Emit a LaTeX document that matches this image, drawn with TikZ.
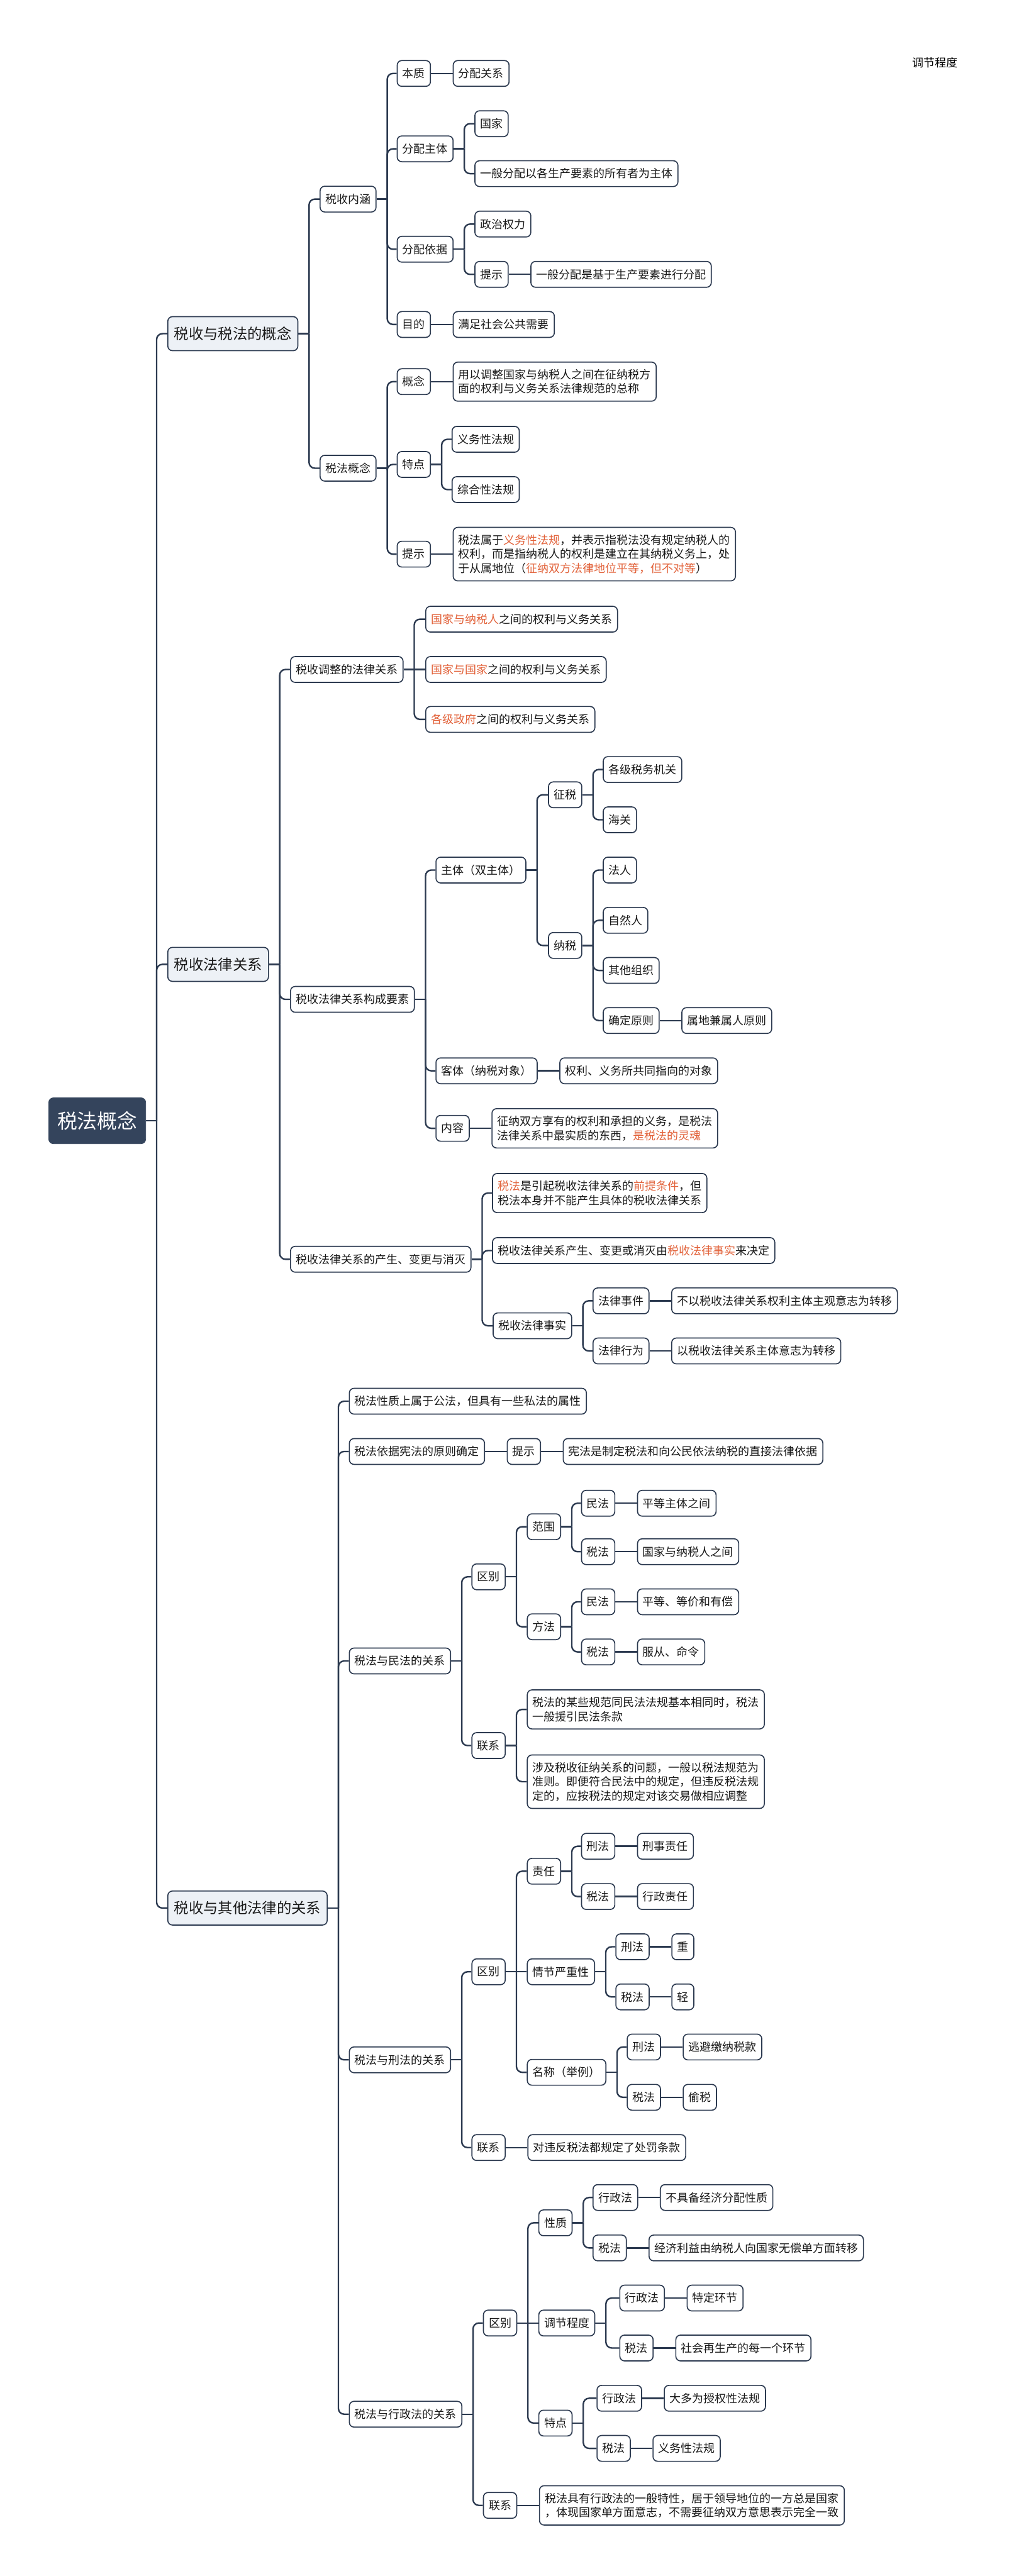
\documentclass[tikz,border=0pt]{standalone}
\usepackage{fontspec}
\setmainfont{Noto Sans CJK SC}
\usepackage{xcolor}
\usepackage{tikz}
\usetikzlibrary{positioning}

\definecolor{navy}{RGB}{44,58,80}
\definecolor{rootfill}{RGB}{52,68,92}
\definecolor{topicfill}{RGB}{237,241,246}
\definecolor{hlorange}{RGB}{226,98,58}
\newcommand{\hlt}[1]{\textcolor{hlorange}{#1}}

\begin{document}
\begin{tikzpicture}[
    x=0.05cm,
    y=-0.05cm,
    node distance=0.66cm,
    rootbox/.style={
        rectangle,
        rounded corners=4pt,
        fill=rootfill,
        draw=rootfill,
        text=white,
        anchor=west,
        inner xsep=7.4pt,
        inner ysep=0pt,
        minimum height=1.4cm,
        font=\fontsize{17.3}{20}\selectfont
    },
    topic/.style={
        rectangle,
        rounded corners=4pt,
        fill=topicfill,
        draw=navy,
        line width=0.9pt,
        text=black!90,
        anchor=west,
        inner xsep=5.5pt,
        inner ysep=0pt,
        minimum height=1.035cm,
        font=\fontsize{12.7}{15}\selectfont
    },
    leaf/.style={
        rectangle,
        rounded corners=4pt,
        fill=white,
        draw=navy,
        line width=0.9pt,
        text=black!90,
        anchor=west,
        align=left,
        inner xsep=4.6pt,
        inner ysep=6.2pt,
        minimum height=0.785cm,
        font=\fontsize{9.8}{12.3}\selectfont
    },
    link/.style={
        draw=navy,
        line width=1.3pt,
        rounded corners=5pt
    }
]

\fill[white] (0,0) rectangle (617,1568);
\useasboundingbox (0,0) rectangle (617,1568);

\node[font=\fontsize{9.8}{12}\selectfont] (note) at (569,38) {调节程度};

% Root and main topics
\node[rootbox] (root) at (29.5,682.2) {税法概念};

\node[topic] (gainian) at (101.8,203.1) {税收与税法的概念};
\node[topic] (guanxi) at (101.8,587) {税收法律关系};
\node[topic] (qita) at (101.8,1161.4) {税收与其他法律的关系};

% Part 1: 税收与税法的概念
\node[leaf] (neihan) at (194.5,121.2) {税收内涵};
\node[leaf] (fagn) at (194.5,285) {税法概念};

\node[leaf] (benzhi) at (241.4,44.7) {本质};
\node[leaf, right=of benzhi] (benzhi-a) {分配关系};
\node[leaf] (zhuti) at (241.4,90.6) {分配主体};
\node[leaf] (guojia) at (288.7,75.3) {国家};
\node[leaf] (suoyou) at (288.7,105.7) {一般分配以各生产要素的所有者为主体};
\node[leaf] (yiju) at (241.4,151.7) {分配依据};
\node[leaf] (quanli) at (288.7,136.4) {政治权力};
\node[leaf] (tishi1) at (288.7,167) {提示};
\node[leaf, right=of tishi1] (tishi1-a) {一般分配是基于生产要素进行分配};
\node[leaf] (mudi) at (241.4,197.5) {目的};
\node[leaf, right=of mudi] (mudi-a) {满足社会公共需要};

\node[leaf] (gn) at (241.4,232.3) {概念};
\node[leaf, right=of gn] (gn-a) {用以调整国家与纳税人之间在征纳税方\\面的权利与义务关系法律规范的总称};
\node[leaf] (tedian) at (241.4,282.7) {特点};
\node[leaf] (yiwu) at (274.8,267.4) {义务性法规};
\node[leaf] (zonghe) at (274.8,298) {综合性法规};
\node[leaf] (tishi2) at (241.4,337.3) {提示};
\node[leaf, right=of tishi2] (tishi2-a) {税法属于\hlt{义务性法规}，并表示指税法没有规定纳税人的\\权利，而是指纳税人的权利是建立在其纳税义务上，处\\于从属地位（\hlt{征纳双方法律地位平等，但不对等}）};

% Part 2: 税收法律关系
\node[leaf] (tiaozheng) at (176.5,407.5) {税收调整的法律关系};
\node[leaf] (tz1) at (258.8,376.9) {\hlt{国家与纳税人}之间的权利与义务关系};
\node[leaf] (tz2) at (258.8,407.5) {\hlt{国家与国家}之间的权利与义务关系};
\node[leaf] (tz3) at (258.8,437.9) {\hlt{各级政府}之间的权利与义务关系};

\node[leaf] (yaosu) at (176.5,608.3) {税收法律关系构成要素};
\node[leaf] (shuangzhu) at (265,529.6) {主体（双主体）};
\node[leaf] (zhengshui) at (333.5,483.8) {征税};
\node[leaf] (swjg) at (366.8,468.4) {各级税务机关};
\node[leaf] (haiguan) at (366.8,499) {海关};
\node[leaf] (nashui) at (333.5,575.5) {纳税};
\node[leaf] (faren) at (366.8,529.6) {法人};
\node[leaf] (ziran) at (366.8,560.2) {自然人};
\node[leaf] (zuzhi) at (366.8,590.7) {其他组织};
\node[leaf] (yuanze) at (366.8,621.2) {确定原则};
\node[leaf, right=of yuanze] (yuanze-a) {属地兼属人原则};
\node[leaf] (keti) at (265,651.8) {客体（纳税对象）};
\node[leaf, right=of keti] (keti-a) {权利、义务所共同指向的对象};
\node[leaf] (neirong) at (265,686.8) {内容};
\node[leaf, right=of neirong] (neirong-a) {征纳双方享有的权利和承担的义务，是税法\\法律关系中最实质的东西，\hlt{是税法的灵魂}};

\node[leaf] (bianhua) at (176.5,766.5) {税收法律关系的产生、变更与消灭};
\node[leaf] (qianti) at (299.4,726.2) {\hlt{税法}是引起税收法律关系的\hlt{前提条件}，但\\税法本身并不能产生具体的税收法律关系};
\node[leaf] (jueding) at (299.4,761.2) {税收法律关系产生、变更或消灭由\hlt{税收法律事实}来决定};
\node[leaf] (shishi) at (299.8,807) {税收法律事实};
\node[leaf] (shijian) at (360.6,791.8) {法律事件};
\node[leaf, right=of shijian] (shijian-a) {不以税收法律关系权利主体主观意志为转移};
\node[leaf] (xingwei) at (360.6,822.3) {法律行为};
\node[leaf, right=of xingwei] (xingwei-a) {以税收法律关系主体意志为转移};

% Part 3: 税收与其他法律的关系
\node[leaf] (gongfa) at (212.3,852.9) {税法性质上属于公法，但具有一些私法的属性};
\node[leaf] (xianfa) at (212.3,883.5) {税法依据宪法的原则确定};
\node[leaf, right=of xianfa] (tishi3) {提示};
\node[leaf, right=of tishi3] (tishi3-a) {宪法是制定税法和向公民依法纳税的直接法律依据};

\node[leaf] (minfa) at (212.3,1011) {税法与民法的关系};
\node[leaf] (mq) at (286.9,959.8) {区别};
\node[leaf] (fanwei) at (320.6,929.3) {范围};
\node[leaf] (fw1) at (353.6,915) {民法};
\node[leaf, right=of fw1] (fw1-a) {平等主体之间};
\node[leaf] (fw2) at (353.6,944.5) {税法};
\node[leaf, right=of fw2] (fw2-a) {国家与纳税人之间};
\node[leaf] (fangfa) at (320.6,990.2) {方法};
\node[leaf] (ff1) at (353.6,975) {民法};
\node[leaf, right=of ff1] (ff1-a) {平等、等价和有偿};
\node[leaf] (ff2) at (353.6,1005.5) {税法};
\node[leaf, right=of ff2] (ff2-a) {服从、命令};
\node[leaf] (ml) at (286.9,1062.5) {联系};
\node[leaf] (ml1) at (320.6,1040.5) {税法的某些规范同民法法规基本相同时，税法\\一般援引民法条款};
\node[leaf] (ml2) at (320.6,1084.5) {涉及税收征纳关系的问题，一般以税法规范为\\准则。即便符合民法中的规定，但违反税法规\\定的，应按税法的规定对该交易做相应调整};

\node[leaf] (xingfa) at (212.3,1253.8) {税法与刑法的关系};
\node[leaf] (xq) at (286.9,1200.2) {区别};
\node[leaf] (zeren) at (320.6,1139) {责任};
\node[leaf] (zr1) at (353.6,1123.8) {刑法};
\node[leaf, right=of zr1] (zr1-a) {刑事责任};
\node[leaf] (zr2) at (353.6,1154.4) {税法};
\node[leaf, right=of zr2] (zr2-a) {行政责任};
\node[leaf] (qingjie) at (320.6,1200.2) {情节严重性};
\node[leaf] (qj1) at (374.5,1185) {刑法};
\node[leaf, right=of qj1] (qj1-a) {重};
\node[leaf] (qj2) at (374.5,1215.5) {税法};
\node[leaf, right=of qj2] (qj2-a) {轻};
\node[leaf] (mingcheng) at (320.6,1261.4) {名称（举例）};
\node[leaf] (mc1) at (381.4,1246) {刑法};
\node[leaf, right=of mc1] (mc1-a) {逃避缴纳税款};
\node[leaf] (mc2) at (381.4,1276.6) {税法};
\node[leaf, right=of mc2] (mc2-a) {偷税};
\node[leaf] (xl) at (286.9,1307.2) {联系};
\node[leaf, right=of xl] (xl-a) {对违反税法都规定了处罚条款};

\node[leaf] (xingzheng) at (212.3,1469.5) {税法与行政法的关系};
\node[leaf] (zq) at (293.9,1414) {区别};
\node[leaf] (xingzhi) at (327.6,1353) {性质};
\node[leaf] (xz1) at (360.6,1337.6) {行政法};
\node[leaf, right=of xz1] (xz1-a) {不具备经济分配性质};
\node[leaf] (xz2) at (360.6,1368.3) {税法};
\node[leaf, right=of xz2] (xz2-a) {经济利益由纳税人向国家无偿单方面转移};
\node[leaf] (chengdu) at (327.6,1414) {调节程度};
\node[leaf] (cd1) at (376.9,1398.8) {行政法};
\node[leaf, right=of cd1] (cd1-a) {特定环节};
\node[leaf] (cd2) at (376.9,1429.2) {税法};
\node[leaf, right=of cd2] (cd2-a) {社会再生产的每一个环节};
\node[leaf] (td) at (327.6,1474.9) {特点};
\node[leaf] (td1) at (363,1459.8) {行政法};
\node[leaf, right=of td1] (td1-a) {大多为授权性法规};
\node[leaf] (td2) at (363,1490.3) {税法};
\node[leaf, right=of td2] (td2-a) {义务性法规};
\node[leaf] (zl) at (293.9,1525) {联系};
\node[leaf, right=of zl] (zl-a) {税法具有行政法的一般特性，居于领导地位的一方总是国家\\，体现国家单方面意志，不需要征纳双方意思表示完全一致};

% Branch lines: stub to spine, then spine to each child
\draw[link] (root.east) -- ++(6.5,0) coordinate (root-s);
\draw[link] (root-s) |- (gainian.west);
\draw[link] (root-s) |- (guanxi.west);
\draw[link] (root-s) |- (qita.west);

\draw[link] (gainian.east) -- ++(6.5,0) coordinate (gainian-s);
\draw[link] (gainian-s) |- (neihan.west);
\draw[link] (gainian-s) |- (fagn.west);

\draw[link] (neihan.east) -- ++(6.5,0) coordinate (neihan-s);
\draw[link] (neihan-s) |- (benzhi.west);
\draw[link] (neihan-s) |- (zhuti.west);
\draw[link] (neihan-s) |- (yiju.west);
\draw[link] (neihan-s) |- (mudi.west);
\draw[link] (benzhi) -- (benzhi-a);
\draw[link] (mudi) -- (mudi-a);

\draw[link] (zhuti.east) -- ++(6.5,0) coordinate (zhuti-s);
\draw[link] (zhuti-s) |- (guojia.west);
\draw[link] (zhuti-s) |- (suoyou.west);

\draw[link] (yiju.east) -- ++(6.5,0) coordinate (yiju-s);
\draw[link] (yiju-s) |- (quanli.west);
\draw[link] (yiju-s) |- (tishi1.west);
\draw[link] (tishi1) -- (tishi1-a);

\draw[link] (fagn.east) -- ++(6.5,0) coordinate (fagn-s);
\draw[link] (fagn-s) |- (gn.west);
\draw[link] (fagn-s) |- (tedian.west);
\draw[link] (fagn-s) |- (tishi2.west);
\draw[link] (gn) -- (gn-a);
\draw[link] (tishi2) -- (tishi2-a);

\draw[link] (tedian.east) -- ++(6.5,0) coordinate (tedian-s);
\draw[link] (tedian-s) |- (yiwu.west);
\draw[link] (tedian-s) |- (zonghe.west);

\draw[link] (guanxi.east) -- ++(6.5,0) coordinate (guanxi-s);
\draw[link] (guanxi-s) |- (tiaozheng.west);
\draw[link] (guanxi-s) |- (yaosu.west);
\draw[link] (guanxi-s) |- (bianhua.west);

\draw[link] (tiaozheng.east) -- ++(6.5,0) coordinate (tiaozheng-s);
\draw[link] (tiaozheng-s) |- (tz1.west);
\draw[link] (tiaozheng-s) -- (tz2.west);
\draw[link] (tiaozheng-s) |- (tz3.west);

\draw[link] (yaosu.east) -- ++(6.5,0) coordinate (yaosu-s);
\draw[link] (yaosu-s) |- (shuangzhu.west);
\draw[link] (yaosu-s) |- (keti.west);
\draw[link] (yaosu-s) |- (neirong.west);
\draw[link] (keti) -- (keti-a);
\draw[link] (neirong) -- (neirong-a);

\draw[link] (shuangzhu.east) -- ++(6.5,0) coordinate (shuangzhu-s);
\draw[link] (shuangzhu-s) |- (zhengshui.west);
\draw[link] (shuangzhu-s) |- (nashui.west);

\draw[link] (zhengshui.east) -- ++(6.5,0) coordinate (zhengshui-s);
\draw[link] (zhengshui-s) |- (swjg.west);
\draw[link] (zhengshui-s) |- (haiguan.west);

\draw[link] (nashui.east) -- ++(6.5,0) coordinate (nashui-s);
\draw[link] (nashui-s) |- (faren.west);
\draw[link] (nashui-s) |- (ziran.west);
\draw[link] (nashui-s) |- (zuzhi.west);
\draw[link] (nashui-s) |- (yuanze.west);
\draw[link] (yuanze) -- (yuanze-a);

\draw[link] (bianhua.east) -- ++(6.5,0) coordinate (bianhua-s);
\draw[link] (bianhua-s) |- (qianti.west);
\draw[link] (bianhua-s) |- (jueding.west);
\draw[link] (bianhua-s) |- (shishi.west);

\draw[link] (shishi.east) -- ++(6.5,0) coordinate (shishi-s);
\draw[link] (shishi-s) |- (shijian.west);
\draw[link] (shishi-s) |- (xingwei.west);
\draw[link] (shijian) -- (shijian-a);
\draw[link] (xingwei) -- (xingwei-a);

\draw[link] (qita.east) -- ++(6.5,0) coordinate (qita-s);
\draw[link] (qita-s) |- (gongfa.west);
\draw[link] (qita-s) |- (xianfa.west);
\draw[link] (qita-s) |- (minfa.west);
\draw[link] (qita-s) |- (xingfa.west);
\draw[link] (qita-s) |- (xingzheng.west);
\draw[link] (xianfa) -- (tishi3);
\draw[link] (tishi3) -- (tishi3-a);

\draw[link] (minfa.east) -- ++(6.5,0) coordinate (minfa-s);
\draw[link] (minfa-s) |- (mq.west);
\draw[link] (minfa-s) |- (ml.west);

\draw[link] (mq.east) -- ++(6.5,0) coordinate (mq-s);
\draw[link] (mq-s) |- (fanwei.west);
\draw[link] (mq-s) |- (fangfa.west);

\draw[link] (fanwei.east) -- ++(6.5,0) coordinate (fanwei-s);
\draw[link] (fanwei-s) |- (fw1.west);
\draw[link] (fanwei-s) |- (fw2.west);
\draw[link] (fw1) -- (fw1-a);
\draw[link] (fw2) -- (fw2-a);

\draw[link] (fangfa.east) -- ++(6.5,0) coordinate (fangfa-s);
\draw[link] (fangfa-s) |- (ff1.west);
\draw[link] (fangfa-s) |- (ff2.west);
\draw[link] (ff1) -- (ff1-a);
\draw[link] (ff2) -- (ff2-a);

\draw[link] (ml.east) -- ++(6.5,0) coordinate (ml-s);
\draw[link] (ml-s) |- (ml1.west);
\draw[link] (ml-s) |- (ml2.west);

\draw[link] (xingfa.east) -- ++(6.5,0) coordinate (xingfa-s);
\draw[link] (xingfa-s) |- (xq.west);
\draw[link] (xingfa-s) |- (xl.west);
\draw[link] (xl) -- (xl-a);

\draw[link] (xq.east) -- ++(6.5,0) coordinate (xq-s);
\draw[link] (xq-s) |- (zeren.west);
\draw[link] (xq-s) -- (qingjie.west);
\draw[link] (xq-s) |- (mingcheng.west);

\draw[link] (zeren.east) -- ++(6.5,0) coordinate (zeren-s);
\draw[link] (zeren-s) |- (zr1.west);
\draw[link] (zeren-s) |- (zr2.west);
\draw[link] (zr1) -- (zr1-a);
\draw[link] (zr2) -- (zr2-a);

\draw[link] (qingjie.east) -- ++(6.5,0) coordinate (qingjie-s);
\draw[link] (qingjie-s) |- (qj1.west);
\draw[link] (qingjie-s) |- (qj2.west);
\draw[link] (qj1) -- (qj1-a);
\draw[link] (qj2) -- (qj2-a);

\draw[link] (mingcheng.east) -- ++(6.5,0) coordinate (mingcheng-s);
\draw[link] (mingcheng-s) |- (mc1.west);
\draw[link] (mingcheng-s) |- (mc2.west);
\draw[link] (mc1) -- (mc1-a);
\draw[link] (mc2) -- (mc2-a);

\draw[link] (xingzheng.east) -- ++(6.5,0) coordinate (xingzheng-s);
\draw[link] (xingzheng-s) |- (zq.west);
\draw[link] (xingzheng-s) |- (zl.west);
\draw[link] (zl) -- (zl-a);

\draw[link] (zq.east) -- ++(6.5,0) coordinate (zq-s);
\draw[link] (zq-s) |- (xingzhi.west);
\draw[link] (zq-s) -- (chengdu.west);
\draw[link] (zq-s) |- (td.west);

\draw[link] (xingzhi.east) -- ++(6.5,0) coordinate (xingzhi-s);
\draw[link] (xingzhi-s) |- (xz1.west);
\draw[link] (xingzhi-s) |- (xz2.west);
\draw[link] (xz1) -- (xz1-a);
\draw[link] (xz2) -- (xz2-a);

\draw[link] (chengdu.east) -- ++(6.5,0) coordinate (chengdu-s);
\draw[link] (chengdu-s) |- (cd1.west);
\draw[link] (chengdu-s) |- (cd2.west);
\draw[link] (cd1) -- (cd1-a);
\draw[link] (cd2) -- (cd2-a);

\draw[link] (td.east) -- ++(6.5,0) coordinate (td-s);
\draw[link] (td-s) |- (td1.west);
\draw[link] (td-s) |- (td2.west);
\draw[link] (td1) -- (td1-a);
\draw[link] (td2) -- (td2-a);

\end{tikzpicture}
\end{document}
